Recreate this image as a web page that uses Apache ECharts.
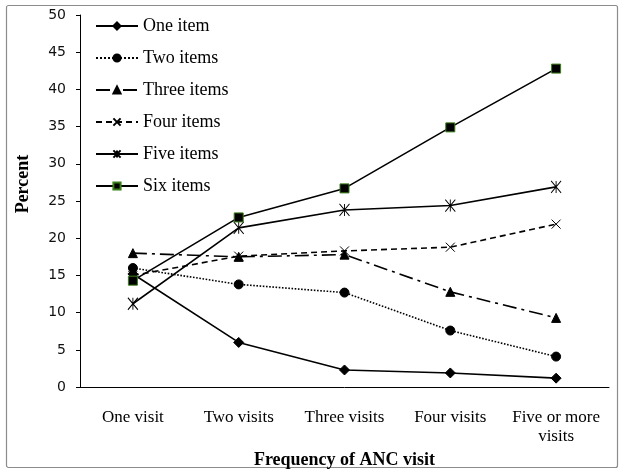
<!DOCTYPE html>
<html><head><meta charset="utf-8">
<script src="https://cdn.jsdelivr.net/npm/echarts@6/dist/echarts.min.js"></script>
<style>html,body{margin:0;padding:0;background:#fff}#c{width:625px;height:474px}</style>
</head><body><div id="c"></div>
<script>
const categories = ['One visit','Two visits','Three visits','Four visits','Five or more\nvisits'];
const oneItem   = [15.2, 6.0, 2.3, 1.9, 1.2];
const twoItems  = [16.0, 13.8, 12.7, 7.6, 4.1];
const threeItems= [18.0, 17.5, 17.8, 12.8, 9.3];
const fourItems = [15.0, 17.6, 18.3, 18.8, 21.9];
const fiveItems = [11.2, 21.4, 23.8, 24.4, 26.9];
const sixItems  = [14.3, 22.8, 26.7, 34.9, 42.8];
const yTicks = [0,5,10,15,20,25,30,35,40,45,50];

const serif = '"Liberation Serif", "Times New Roman", serif';
const crossPath = 'path://M0,0L10,10M10,0L0,10';
const starPath = 'path://M0,0L10,12M10,0L0,12M5,0L5,12';

function mk(name, data, symbol, size, lineType, extraItem) {
  return {
    name, type: 'line', data, symbol, symbolSize: size,
    lineStyle: {color: '#000', width: 1.6, type: lineType},
    itemStyle: Object.assign({color: '#000', borderColor: '#000', borderWidth: 1}, extraItem || {}),
    emphasis: {disabled: true}, animation: false
  };
}

const chart = echarts.init(document.getElementById('c'));
chart.setOption({
  backgroundColor: '#fff',
  animation: false,
  graphic: [{type: 'rect', shape: {x: 6.5, y: 5.5, width: 611, height: 462, r: 2},
    style: {fill: 'none', stroke: '#8c8c8c', lineWidth: 1.2}, silent: true}],
  grid: {left: 80, right: 16, top: 15, bottom: 82},
  legend: {
    orient: 'vertical', left: 90, top: 12,
    itemWidth: 42, itemHeight: 9, itemGap: 14,
    textStyle: {fontFamily: serif, fontSize: 18, color: '#000'},
    data: ['One item','Two items','Three items','Four items','Five items','Six items']
  },
  xAxis: {
    type: 'category', data: categories, boundaryGap: true,
    name: 'Frequency of ANC visit', nameLocation: 'middle', nameGap: 60,
    nameTextStyle: {fontFamily: serif, fontSize: 18, fontWeight: 'bold', color: '#000'},
    axisLine: {lineStyle: {color: '#000', width: 1}},
    axisTick: {inside: false, length: 4, alignWithLabel: false, lineStyle: {color: '#000'}},
    axisLabel: {fontFamily: serif, fontSize: 17, color: '#000', margin: 21, lineHeight: 19, interval: 0},
    splitLine: {show: false}
  },
  yAxis: {
    type: 'value', min: 0, max: 50, interval: 5,
    name: 'Percent', nameLocation: 'middle', nameGap: 48,
    nameTextStyle: {fontFamily: serif, fontSize: 18, fontWeight: 'bold', color: '#000', padding: [0, 0, 0, 34]},
    axisLine: {show: true, lineStyle: {color: '#000', width: 1}},
    axisTick: {show: true, length: 4, lineStyle: {color: '#000'}},
    axisLabel: {fontFamily: '"DejaVu Sans", Verdana, sans-serif', fontSize: 14, color: '#111', margin: 14,
      formatter: v => yTicks.includes(v) ? String(v) : ''},
    splitLine: {show: false}
  },
  series: [
    mk('One item', oneItem, 'diamond', 10, 'solid'),
    mk('Two items', twoItems, 'circle', 9, 'dotted'),
    mk('Three items', threeItems, 'triangle', 9, [14, 5, 3, 5]),
    mk('Four items', fourItems, crossPath, 9, [6, 4], {color: 'none'}),
    mk('Five items', fiveItems, starPath, [10, 12], 'solid', {color: 'none'}),
    mk('Six items', sixItems, 'rect', 9, 'solid', {color: '#000', borderColor: '#3a7d1a', borderWidth: 1})
  ]
});
</script></body></html>
